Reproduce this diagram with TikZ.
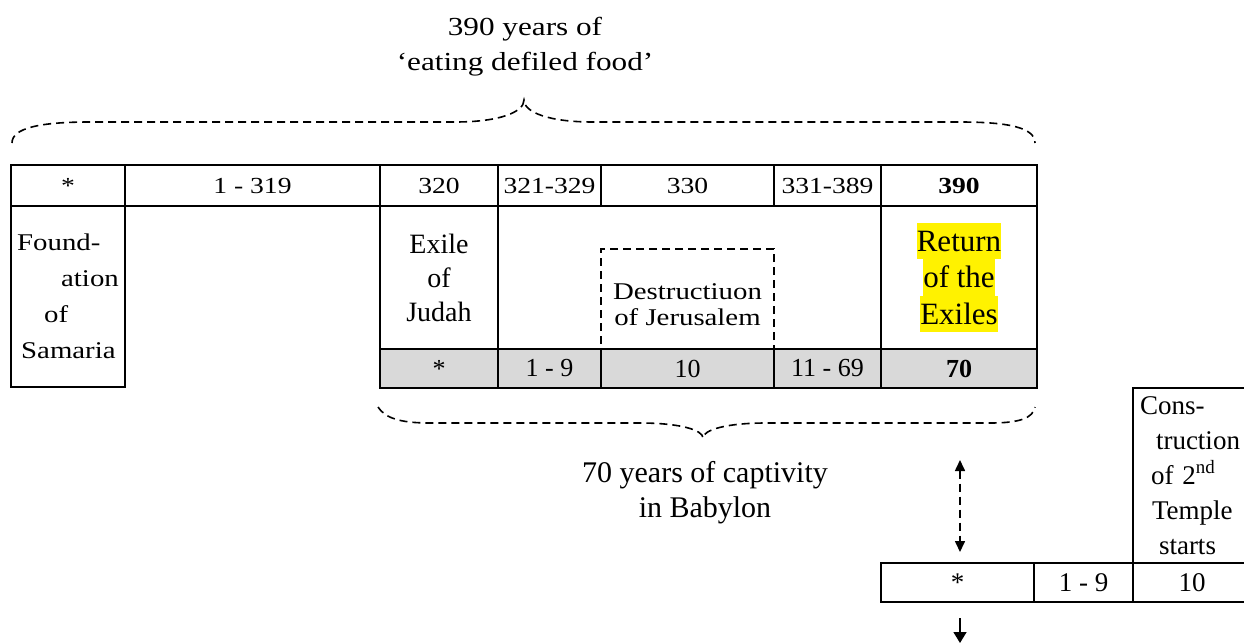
\documentclass[tikz,border=0pt]{standalone}
\usepackage{fontspec}
\setmainfont{Liberation Serif}
\newfontfamily\widefont{Liberation Serif}[FakeStretch=1.2]
\usetikzlibrary{arrows.meta,positioning}

\newcommand{\yellowmark}[1]{{\setlength{\fboxsep}{0pt}\colorbox{yellow}{\rule[-4pt]{0pt}{18.25pt}#1}}}

\begin{document}
\begin{tikzpicture}[
  x=0.5pt, y=-0.5pt,
  cell/.style={draw, line width=0.9pt, inner sep=0pt, outer sep=0pt, align=center},
  yrcell/.style={cell, minimum height=20.5pt, font=\widefont\fontsize{11.5}{14}\selectfont},
  capcell/.style={cell, minimum height=19.5pt, fill=black!15, font=\fontsize{13}{16}\selectfont},
  lowcell/.style={cell, minimum height=19.5pt, font=\fontsize{13.5}{16}\selectfont},
  dashbox/.style={draw, line width=0.75pt, dash pattern=on 4pt off 2.5pt, inner sep=0pt, outer sep=0pt},
  brace/.style={line width=0.8pt, dash pattern=on 4pt off 2.5pt},
  link/.style={{Triangle[length=5.5pt,width=5pt]}-{Triangle[length=5.5pt,width=5pt]}, line width=0.8pt, dash pattern=on 4pt off 2.5pt},
  onward/.style={-{Triangle[length=5.5pt,width=6.5pt]}, line width=0.8pt},
  note/.style={align=center}
]
\useasboundingbox (0,0) rectangle (1244,643);

% year row
\node[yrcell, minimum width=57pt] (h0) at (68,185.5) {*};
\node[yrcell, minimum width=127.5pt, right=0pt of h0] (h1) {1 - 319};
\node[yrcell, minimum width=59pt, right=0pt of h1] (h2) {320};
\node[yrcell, minimum width=51.5pt, right=0pt of h2] (h3) {321-329};
\node[yrcell, minimum width=86.5pt, right=0pt of h3] (h4) {330};
\node[yrcell, minimum width=53.5pt, right=0pt of h4] (h5) {331-389};
\node[yrcell, minimum width=78pt, right=0pt of h5] (h6) {\textbf{390}};

% events
\node[cell, minimum width=57pt, minimum height=90.5pt, below=0pt of h0, align=left,
  font=\widefont\fontsize{12}{18}\selectfont] (found)
  {Found-\\\hspace*{22pt}ation\\\hspace*{13.5pt}of\\\hspace*{2pt}Samaria};
\node[cell, minimum width=59pt, minimum height=71.5pt, below=0pt of h2,
  font=\fontsize{14}{17}\selectfont] (exile) {Exile\\of\\Judah};
\node[cell, minimum width=78pt, minimum height=71.5pt, below=0pt of h6,
  font=\fontsize{15.5}{18.25}\selectfont] (ret)
  {\yellowmark{Return}\\\yellowmark{of the}\\\yellowmark{Exiles}};

% captivity row
\node[capcell, minimum width=59pt, below=0pt of exile] (g0) {*};
\node[capcell, minimum width=51.5pt, right=0pt of g0] (g1) {1 - 9};
\node[capcell, minimum width=86.5pt, right=0pt of g1] (g2) {10};
\node[capcell, minimum width=53.5pt, right=0pt of g2] (g3) {11 - 69};
\node[capcell, minimum width=78pt, right=0pt of g3] (g4) {\textbf{70}};

\node[dashbox, minimum width=86.5pt, minimum height=50pt, above=0pt of g2] (destr) {};
\node[note, font=\widefont\fontsize{12}{13}\selectfont] (destrtext)
  at ([yshift=-3pt]destr.center) {Destructiuon\\of Jerusalem};

% braces
\draw[brace] (12,143) .. controls (12,128) and (40,122) .. (90,122) -- (455,122)
  .. controls (500,122) and (524,112) .. (524,100)
  .. controls (524,112) and (548,122) .. (593,122) -- (960,122)
  .. controls (1010,122) and (1035,128) .. (1035,143);
\draw[brace] (378,407) .. controls (385,418) and (400,423) .. (430,423) -- (640,423)
  .. controls (680,423) and (703,430) .. (703,438)
  .. controls (703,430) and (726,423) .. (766,423) -- (990,423)
  .. controls (1020,423) and (1033,418) .. (1035,407);

\node[note, font=\widefont\fontsize{13}{17.5}\selectfont] (defiled) at (525,46.5)
  {390 years of\\‘eating defiled food’};
\node[note, font=\fontsize{15}{17.5}\selectfont] (captivity) at (705,493)
  {70 years of captivity\\in Babylon};

% second temple row
\node[lowcell, minimum width=76.5pt] (b0) at (957.5,582.5) {*};
\node[lowcell, minimum width=49.5pt, right=0pt of b0] (b1) {1 - 9};
\node[lowcell, minimum width=59pt, right=0pt of b1] (b2) {10};
\node[cell, minimum width=59pt, minimum height=87.5pt, above=0pt of b2, text width=52pt, align=left,
  font=\fontsize{13.5}{17.5}\selectfont] (temple)
  {Cons-\\\hspace*{8pt}truction\\\hspace*{5.5pt}of 2\textsuperscript{nd}\\\hspace*{6pt}Temple\\\hspace*{9.5pt}starts};

\coordinate (gapup) at (960,460);
\coordinate (gapdown) at (960,552);
\draw[link] (gapup) -- (gapdown);
\coordinate (onfrom) at (960,618);
\coordinate (onto) at (960,643);
\draw[onward] (onfrom) -- (onto);

\end{tikzpicture}
\end{document}
